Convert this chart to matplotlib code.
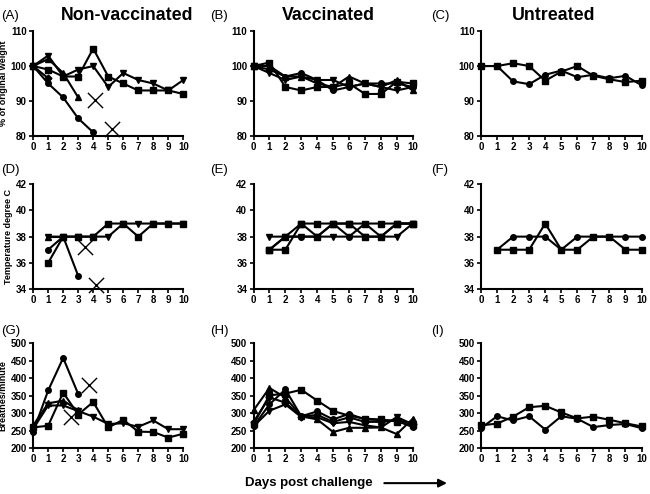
import matplotlib
matplotlib.use('Agg')
import matplotlib.pyplot as plt

plt.rcParams['font.family'] = ['Liberation Sans', 'DejaVu Sans']

days = list(range(11))
days_t = list(range(1, 11))

# 体重 (% of original weight)
wA_sq = [100, 99, 97, 97, 105, 97, 95, 93, 93, 93, 92]
wA_tv = [100, 103, 97, 99, 100, 94, 98, 96, 95, 93, 96]
wA_tu = [100, 102, 98, 91]
wA_ci = [100, 95, 91, 85, 81]
wA_di = [100, 96.5]
wA_dead_x = [4.1, 5.25]
wA_dead_y = [90.2, 82]

wB_sq = [100, 101, 94, 93, 94, 94, 95, 92, 92, 95.5, 95]
wB_ci = [100, 99, 97, 98, 96, 93, 94, 95, 95, 95, 94]
wB_tv = [100, 98, 96, 97, 96, 96, 94, 95, 94, 93, 94]
wB_tu = [100, 100, 97, 97, 95, 94, 97, 95, 94, 96, 93]

wC_sq = [100, 100, 100.8, 100, 95.8, 98.4, 100, 97.2, 96.2, 95.4, 95.8]
wC_ci = [100, 100, 95.6, 94.8, 97.5, 98.7, 96.8, 97.5, 96.5, 97.2, 94.5]

# 体温
tD_sq = [36, 38, 38, 38, 39, 39, 38, 39, 39, 39]
tD_tv = [38, 38, 38, 38, 38, 39, 39, 39, 39, 39]
tD_ci = [37, 38, 35]
tD_tu = [38, 38]
tD_dead_x = [3.45, 4.2]
tD_dead_y = [37.2, 34.3]

tE_sq = [37, 37, 39, 39, 39, 39, 39, 39, 39, 39]
tE_s2 = [37, 38, 39, 38, 39, 39, 38, 38, 39, 39]
tE_ci = [37, 38, 38, 38, 39, 38, 39, 38, 39, 39]
tE_tv = [38, 38, 38, 38, 38, 38, 38, 38, 38, 39]

tF_sq = [37, 37, 37, 39, 37, 37, 38, 38, 37, 37]
tF_ci = [37, 38, 38, 38, 37, 38, 38, 38, 38, 38]

# 呼吸频率
bG_ci = [246, 365, 458, 355]
bG_sq = [259, 264, 359, 296, 332, 259, 281, 247, 246, 230, 241]
bG_tv = [255, 322, 322, 306, 290, 269, 271, 261, 279, 254, 254]
bG_tu = [265, 328, 336, 308]
bG_dead_x = [3.73, 2.5]
bG_dead_y = [382, 290]

bH_sq = [268, 351, 356, 367, 336, 306, 293, 284, 282, 276, 265]
bH_tu = [308, 372, 345, 291, 282, 246, 258, 258, 259, 240, 284]
bH_ci = [262, 325, 368, 291, 305, 282, 298, 282, 280, 278, 260]
bH_tv = [262, 307, 325, 289, 288, 271, 275, 265, 259, 289, 268]
bH_di = [275, 345, 330, 290, 295, 275, 288, 275, 275, 280, 270]

bI_sq = [265, 270, 290, 317, 321, 302, 285, 290, 281, 271, 262]
bI_ci = [257, 291, 279, 291, 253, 291, 284, 260, 266, 269, 257]

fig = plt.figure(figsize=(6.5, 4.94), dpi=100)

cols = [(0.051, 0.231), (0.390, 0.245), (0.740, 0.247)]
rows = [(0.725, 0.212), (0.415, 0.212), (0.093, 0.212)]


def make_ax(r, c, ylim, yticks):
    ax = fig.add_axes([cols[c][0], rows[r][0], cols[c][1], rows[r][1]])
    ax.set_xlim(0, 10)
    ax.set_ylim(*ylim)
    ax.set_xticks(days)
    ax.set_yticks(yticks)
    for s in ['top', 'right']:
        ax.spines[s].set_visible(False)
    for s in ['left', 'bottom']:
        ax.spines[s].set_linewidth(1.5)
    ax.tick_params(direction='out', length=3, width=1.2, labelsize=7, pad=1.5)
    for lab in ax.get_xticklabels() + ax.get_yticklabels():
        lab.set_fontweight('bold')
    return ax


def line(ax, x, y, m, ms=4):
    ax.plot(x, y, color='black', lw=1.5, marker=m, ms=ms, clip_on=False, zorder=3)


def dead(ax, x, y):
    ax.scatter(x, y, marker='x', s=120, c='black', linewidths=1.0, zorder=4, clip_on=False)


# row 1
ax = make_ax(0, 0, (80, 110), [80, 90, 100, 110])
line(ax, days, wA_sq, 's')
line(ax, days, wA_tv, 'v')
line(ax, days[:4], wA_tu, '^')
line(ax, days[:5], wA_ci, 'o')
line(ax, days[:2], wA_di, 'D', 3.5)
dead(ax, wA_dead_x, wA_dead_y)
ax.set_ylabel('% of original weight', fontsize=6.5, fontweight='bold', labelpad=2)

ax = make_ax(0, 1, (80, 110), [80, 90, 100, 110])
line(ax, days, wB_sq, 's')
line(ax, days, wB_ci, 'o')
line(ax, days, wB_tv, 'v')
line(ax, days, wB_tu, '^')

ax = make_ax(0, 2, (80, 110), [80, 90, 100, 110])
line(ax, days, wC_sq, 's')
line(ax, days, wC_ci, 'o')

# row 2
ax = make_ax(1, 0, (34, 42), [34, 36, 38, 40, 42])
line(ax, days_t, tD_sq, 's')
line(ax, days_t, tD_tv, 'v')
line(ax, days_t[:3], tD_ci, 'o')
line(ax, days_t[:2], tD_tu, '^')
dead(ax, tD_dead_x, tD_dead_y)
ax.set_ylabel('Temperature degree C', fontsize=6.5, fontweight='bold', labelpad=2)

ax = make_ax(1, 1, (34, 42), [34, 36, 38, 40, 42])
line(ax, days_t, tE_sq, 's')
line(ax, days_t, tE_s2, 's')
line(ax, days_t, tE_ci, 'o')
line(ax, days_t, tE_tv, 'v')

ax = make_ax(1, 2, (34, 42), [34, 36, 38, 40, 42])
line(ax, days_t, tF_sq, 's')
line(ax, days_t, tF_ci, 'o')

# row 3
bticks = [200, 250, 300, 350, 400, 450, 500]
ax = make_ax(2, 0, (200, 500), bticks)
line(ax, days[:4], bG_ci, 'o')
line(ax, days, bG_sq, 's')
line(ax, days, bG_tv, 'v')
line(ax, days[:4], bG_tu, '^')
dead(ax, bG_dead_x, bG_dead_y)
ax.set_ylabel('Breathes/minute', fontsize=6.5, fontweight='bold', labelpad=2)

ax = make_ax(2, 1, (200, 500), bticks)
line(ax, days, bH_sq, 's')
line(ax, days, bH_tu, '^')
line(ax, days, bH_ci, 'o')
line(ax, days, bH_tv, 'v')
line(ax, days, bH_di, 'D', 3.5)

ax = make_ax(2, 2, (200, 500), bticks)
line(ax, days, bI_sq, 's')
line(ax, days, bI_ci, 'o')

# panel letters and titles
letters = [('(A)', 0.002, 0.968), ('(B)', 0.323, 0.968), ('(C)', 0.663, 0.968),
           ('(D)', 0.002, 0.655), ('(E)', 0.323, 0.655), ('(F)', 0.663, 0.655),
           ('(G)', 0.002, 0.330), ('(H)', 0.323, 0.330), ('(I)', 0.663, 0.330)]
for t, x, y in letters:
    fig.text(x, y, t, fontsize=9.5, va='center', ha='left')

fig.text(0.195, 0.968, 'Non-vaccinated', fontsize=12.8, fontweight='bold', ha='center', va='center')
fig.text(0.505, 0.968, 'Vaccinated', fontsize=12.8, fontweight='bold', ha='center', va='center')
fig.text(0.852, 0.968, 'Untreated', fontsize=12.8, fontweight='bold', ha='center', va='center')

fig.text(0.475, 0.022, 'Days post challenge', fontsize=9.5, fontweight='bold', ha='center', va='center')
fig.add_artist(matplotlib.patches.FancyArrowPatch((0.587, 0.022), (0.692, 0.022),
                                                  transform=fig.transFigure, arrowstyle='-|>',
                                                  mutation_scale=12, lw=1.5, color='black'))

fig.savefig('out.png', dpi=100)
